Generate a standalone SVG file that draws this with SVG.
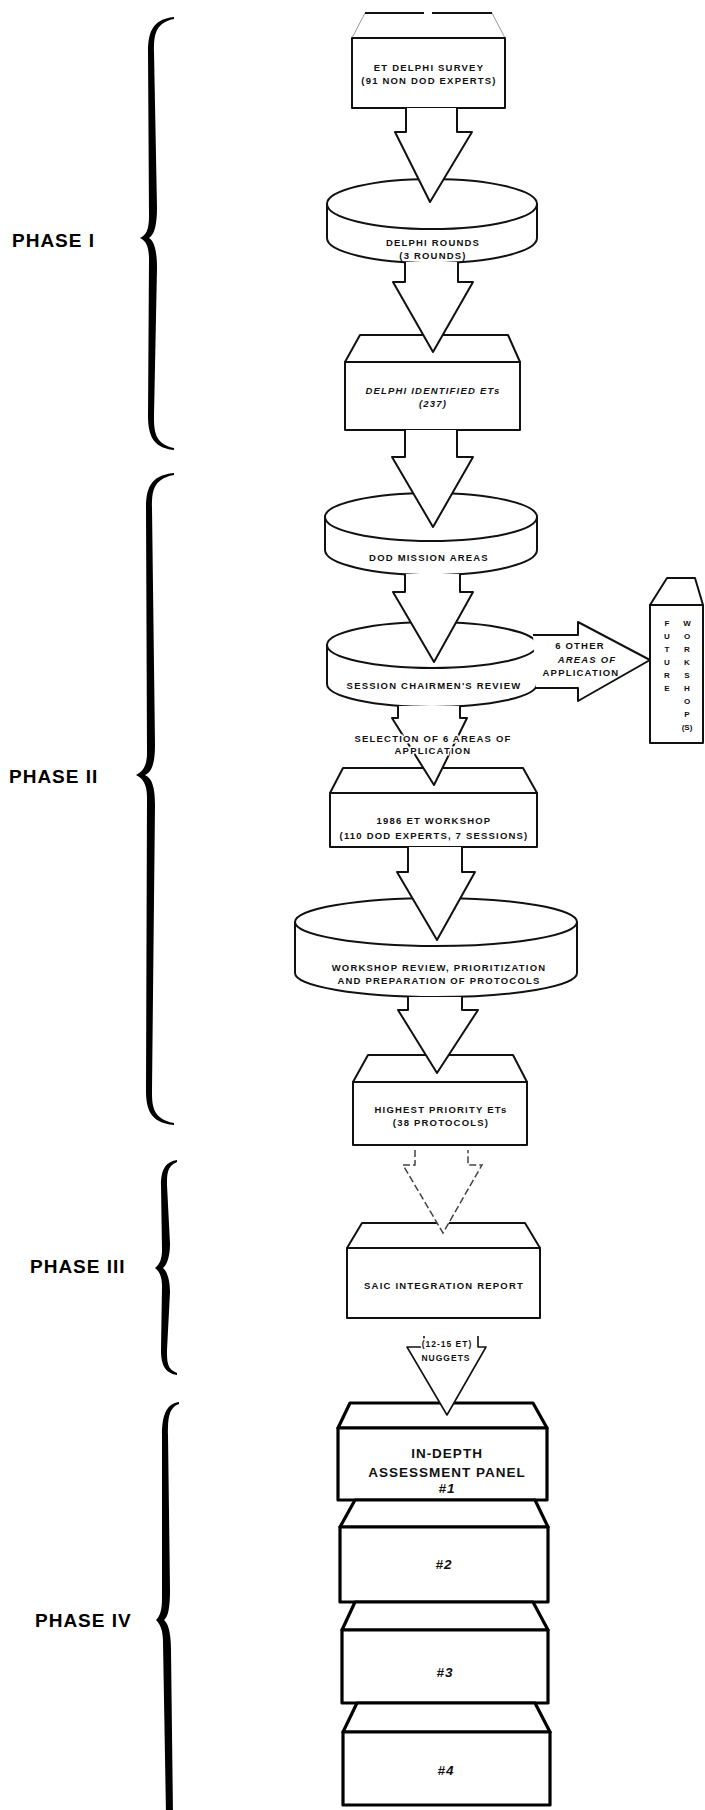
<svg xmlns="http://www.w3.org/2000/svg" width="705" height="1810" viewBox="0 0 705 1810">
<style>
.bg{fill:#fff}
.n{fill:#fff;stroke:#111;stroke-width:2;stroke-linejoin:round}
.nf{fill:none;stroke:#999;stroke-width:1}
.p{fill:#fff;stroke:#000;stroke-width:3.2;stroke-linejoin:round}
.a{fill:#fff;stroke:#111;stroke-width:2;stroke-linejoin:round}
.af{fill:#fff;stroke:#444;stroke-width:1.5;stroke-dasharray:7 3}
.t{font-family:"Liberation Sans",Arial,sans-serif;font-weight:bold;font-size:9.5px;letter-spacing:1.2px;fill:#111;text-anchor:middle}
.i{font-style:italic}
.halo{stroke:#fff;stroke-width:3px;paint-order:stroke}
.big{font-size:13.5px;letter-spacing:1px}
.ph{font-family:"Liberation Sans",Arial,sans-serif;font-weight:bold;font-size:19px;letter-spacing:1px;fill:#000}
.br{fill:#000}
</style>
<rect class="bg" x="0" y="0" width="705" height="1810"/>

<g id="phase-labels">
<text class="ph" x="12" y="247">PHASE I</text>
<text class="ph" x="9" y="783">PHASE II</text>
<text class="ph" x="30" y="1273">PHASE III</text>
<text class="ph" x="35" y="1627">PHASE IV</text>
</g>

<g id="braces">
<path class="br" d="M174,17 C151,19 148,35 148,52 L149,216 C149,230 146,235 140,238 C146,241 149,246 149,260 L148,415 C148,432 151,448 174,450 L174,448 C154,444 154,430 154,415 L157,268 C157,250 154,241 149,238 C154,235 157,226 157,208 L154,52 C154,37 154,23 174,19 Z"/>
<path class="br" d="M174,473 C149,475 146,491 146,508 L147,753 C147,767 142,772 136,775 C142,778 147,783 147,797 L146,1090 C146,1107 149,1123 174,1125 L174,1123 C152,1119 152,1105 152,1090 L155,805 C155,787 152,778 145,775 C152,772 155,763 155,745 L152,508 C152,493 152,479 174,475 Z"/>
<path class="br" d="M177,1160 C164,1162 161,1172 161,1185 L162,1250 C162,1260 159,1265 155,1268 C159,1271 162,1276 162,1286 L161,1350 C161,1363 164,1373 177,1375 L177,1373 C167,1369 167,1362 167,1350 L170,1292 C170,1280 167,1271 163,1268 C167,1265 170,1256 170,1244 L167,1185 C167,1174 167,1166 177,1162 Z"/>
<path class="br" d="M179,1402 C165,1404 162,1418 162,1435 L162,1598 C162,1610 160,1616 156,1620 C160,1624 163,1630 163,1642 L166,1815 L173,1815 L171,1650 C171,1632 168,1623 164,1620 C168,1617 170,1608 170,1590 L168,1435 C168,1420 168,1408 179,1404 Z"/>
</g>

<g id="node-delphi-survey">
<path class="nf" d="M365,13 L352,38 M492,13 L505,38"/>
<path class="n" d="M365,13 H424 M432,13 H492"/>
<rect class="n" x="352" y="38" width="153" height="70"/>
<text class="t" x="429" y="71">ET DELPHI SURVEY</text>
<text class="t" x="429" y="84">(91 NON DOD EXPERTS)</text>
</g>

<g id="node-delphi-rounds">
<path class="n" d="M327,204 V238 A105,25 0 0 0 537,238 V204 Z"/>
<ellipse class="n" cx="432" cy="204" rx="105" ry="25"/>
<text class="t" x="433" y="246">DELPHI ROUNDS</text>
<text class="t" x="433" y="259">(3 ROUNDS)</text>
</g>

<g id="node-delphi-identified">
<polygon class="n" points="360,335 508,335 520,362 345,362"/>
<rect class="n" x="345" y="362" width="175" height="68"/>
<text class="t i" x="433" y="394">DELPHI IDENTIFIED ETs</text>
<text class="t i" x="433" y="407">(237)</text>
</g>

<g id="node-dod-mission">
<path class="n" d="M325,517 V550 A106,25 0 0 0 537,550 V517 Z"/>
<ellipse class="n" cx="431" cy="517" rx="106" ry="24"/>
<text class="t" x="429" y="561">DOD MISSION AREAS</text>
</g>

<g id="node-session-review">
<path class="n" d="M327,645 V684 A105,23 0 0 0 537,684 V645 Z"/>
<ellipse class="n" cx="432" cy="645" rx="105" ry="23"/>
<text class="t" x="434" y="689">SESSION CHAIRMEN'S REVIEW</text>
</g>

<g id="node-future-workshops">
<polygon class="n" points="667,578 695,578 703,605 650,605"/>
<rect class="n" x="650" y="605" width="53" height="138"/>
<g class="t" style="font-size:8px;letter-spacing:0">
<text x="667" y="626">F</text><text x="667" y="639">U</text><text x="667" y="652">T</text><text x="667" y="665">U</text><text x="667" y="678">R</text><text x="667" y="691">E</text>
<text x="687" y="626">W</text><text x="687" y="639">O</text><text x="687" y="652">R</text><text x="687" y="665">K</text><text x="687" y="678">S</text><text x="687" y="691">H</text><text x="687" y="704">O</text><text x="687" y="717">P</text><text x="687" y="730">(S)</text>
</g>
</g>

<g id="node-workshop-1986">
<polygon class="n" points="343,768 523,768 537,793 330,793"/>
<rect class="n" x="330" y="793" width="207" height="54"/>
<text class="t" x="434" y="824">1986 ET WORKSHOP</text>
<text class="t" x="434" y="839">(110 DOD EXPERTS, 7 SESSIONS)</text>
</g>

<g id="node-workshop-review">
<path class="n" d="M295,922 V973 A141,24 0 0 0 577,973 V922 Z"/>
<ellipse class="n" cx="436" cy="922" rx="141" ry="24"/>
<text class="t" x="439" y="971">WORKSHOP REVIEW, PRIORITIZATION</text>
<text class="t" x="439" y="984">AND PREPARATION OF PROTOCOLS</text>
</g>

<g id="node-highest-priority">
<polygon class="n" points="368,1055 513,1055 527,1082 353,1082"/>
<rect class="n" x="353" y="1082" width="174" height="63"/>
<text class="t" x="441" y="1113">HIGHEST PRIORITY ETs</text>
<text class="t" x="441" y="1126">(38 PROTOCOLS)</text>
</g>

<g id="node-saic-report">
<polygon class="n" points="362,1223 525,1223 540,1248 347,1248"/>
<rect class="n" x="347" y="1248" width="193" height="70"/>
<text class="t" x="444" y="1289">SAIC INTEGRATION REPORT</text>
</g>

<g id="node-panel-1">
<polygon class="p" points="350,1403 533,1403 547,1428 338,1428"/>
<rect class="p" x="338" y="1428" width="209" height="72"/>
<text class="t big" x="447" y="1458">IN-DEPTH</text>
<text class="t big" x="447" y="1477">ASSESSMENT PANEL</text>
<text class="t big i" x="447" y="1493">#1</text>
</g>

<g id="node-panel-2">
<polygon class="p" points="355,1500 535,1500 548,1527 340,1527"/>
<rect class="p" x="340" y="1527" width="208" height="75"/>
<text class="t big i" x="444" y="1569">#2</text>
</g>

<g id="node-panel-3">
<polygon class="p" points="355,1602 533,1602 548,1630 342,1630"/>
<rect class="p" x="342" y="1630" width="206" height="73"/>
<text class="t big i" x="445" y="1677">#3</text>
</g>

<g id="node-panel-4">
<polygon class="p" points="357,1703 535,1703 550,1732 343,1732"/>
<rect class="p" x="343" y="1732" width="207" height="73"/>
<text class="t big i" x="446" y="1775">#4</text>
</g>

<g id="connectors">
<path class="a" d="M406,108 V132 H395 L430,202 L472,132 H457 V108"/>
<path class="a" d="M405,262 V282 H393 L433,352 L473,282 H458 V262"/>
<path class="a" d="M405,430 V457 H392 L433,527 L473,457 H457 V430"/>
<path class="a" d="M405,574 V592 H393 L434,662 L473,592 H460 V574"/>
<path class="a" d="M533,635 H578 V622 L650,660 L578,701 V688 H536"/>
<path class="a" d="M398,706 V718 H392 L434,785 L467,718 H460 V706"/>
<path class="a" d="M408,847 V872 H397 L437,940 L475,872 H462 V847"/>
<path class="a" d="M408,997 V1010 H398 L437,1073 L478,1010 H462 V997"/>
<path class="af" d="M415,1150 V1165 H403 L443,1233 L482,1165 H468 V1150"/>
<path class="a" style="stroke-width:1.6" d="M424,1336 V1347 H407 L447,1415 L486,1347 H478 V1336"/>
</g>

<g id="connector-labels">
<text class="t" x="580" y="649">6 OTHER</text>
<text class="t i" x="587" y="663">AREAS OF</text>
<text class="t" x="581" y="676">APPLICATION</text>
<text class="t halo" x="433" y="742">SELECTION OF 6  AREAS OF</text>
<text class="t halo" x="433" y="754">APPLICATION</text>
<text class="t halo" style="font-size:8.5px;letter-spacing:1px" x="447" y="1347">(12-15 ET)</text>
<text class="t halo" style="font-size:8.5px;letter-spacing:1px" x="446" y="1361">NUGGETS</text>
</g>
</svg>
